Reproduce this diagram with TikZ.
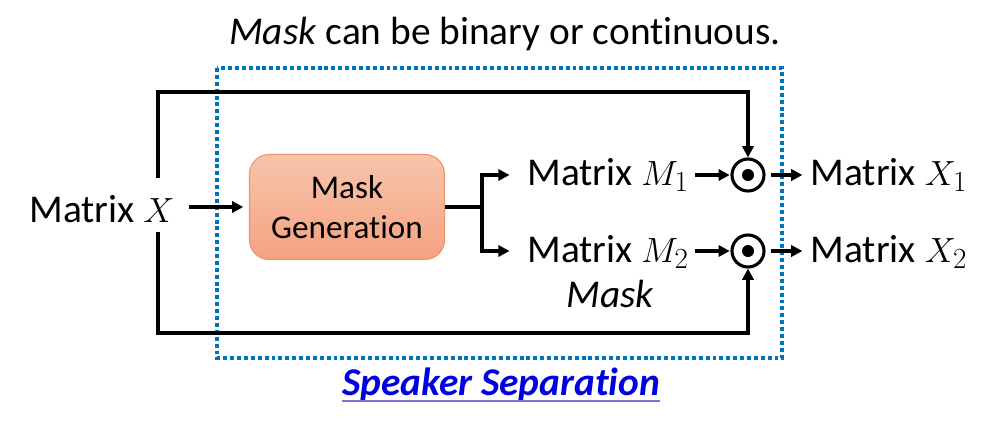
\documentclass[tikz,border=0pt]{standalone}
\usepackage{fontspec}
\setmainfont{Carlito}[Ligatures={NoCommon}]
\usetikzlibrary{arrows.meta,positioning,shapes}

\definecolor{boxtop}{RGB}{248,196,172}
\definecolor{boxbot}{RGB}{244,162,128}
\definecolor{boxline}{RGB}{238,150,112}
\definecolor{sepblue}{RGB}{0,112,192}
\definecolor{spkblue}{RGB}{0,0,225}
\definecolor{ulblue}{RGB}{120,120,210}

\begin{document}
\begin{tikzpicture}[x=0.025cm, y=-0.025cm,
    txt/.style={font=\fontsize{28}{33}\selectfont, anchor=base, inner sep=1pt},
    maskgen/.style={rectangle, rounded corners=14pt, draw=boxline, line width=0.8pt, top color=boxtop, bottom color=boxbot, minimum width=4.875cm, minimum height=2.625cm, align=center, font=\fontsize{23.6}{29}\selectfont},
    odot/.style={circle, draw, line width=2.2pt, minimum size=0.8cm, inner sep=0pt},
    arr/.style={-{Triangle[length=8pt,width=8pt]}, line width=2.2pt},
    loopline/.style={-{Triangle[length=8pt,width=8pt]}, line width=2.8pt}
]
\useasboundingbox (0,0) rectangle (1001,422);

% Title
\node[txt] (title) at (505,44) {\textit{Mask} can be binary or continuous.};

% Speaker separation frame
\draw[sepblue, line width=2.8pt, dash pattern=on 2.8pt off 2.1pt] (217,68) rectangle (782,358);

% Blocks and labels
\node[txt] (matx) at (102,222) {Matrix $X$};
\node[maskgen] (gen) at (347,207) {Mask\\Generation};
\node[txt] (m1) at (608,185) {Matrix $M_1$};
\node[txt] (m2) at (608,262) {Matrix $M_2$};
\node[txt, font=\fontsize{28}{33}\selectfont\itshape] (masklbl) at (610,307) {Mask};
\node[odot] (od1) at (748,175) {};
\node[odot] (od2) at (748,251) {};
\fill (od1.center) circle (0.15cm);
\fill (od2.center) circle (0.15cm);
\node[txt] (x1) at (889,185) {Matrix $X_1$};
\node[txt] (x2) at (889,262) {Matrix $X_2$};
\node[txt, font=\fontsize{28}{33}\selectfont\bfseries\itshape, text=spkblue, inner sep=0pt] (spk) at (501,395) {Speaker Separation};
\draw[ulblue, line width=1.4pt] (spk.south west) -- (spk.south east);

% Connectors
\coordinate (split) at (482,207);
\draw[arr, shorten <=9pt, shorten >=4pt] (matx.east |- gen.west) -- (gen.west);
\draw[line width=2.8pt] (gen.east) -- (split);
\draw[arr, shorten >=11.5pt] (split) |- (m1.west |- od1);
\draw[arr, shorten >=11.5pt] (split) |- (m2.west |- od2);
\draw[arr, shorten <=3pt, shorten >=0.5pt] (m1.east |- od1) -- (od1.west);
\draw[arr, shorten <=3pt, shorten >=0.5pt] (m2.east |- od2) -- (od2.west);
\draw[arr, shorten <=4pt, shorten >=4.7pt] (od1.east) -- (x1.west |- od1);
\draw[arr, shorten <=4pt, shorten >=4.7pt] (od2.east) -- (x2.west |- od2);

% Bypass loops
\coordinate (upstart) at (158,178);
\coordinate (upcorner) at (158,92);
\coordinate (lowstart) at (158,232);
\coordinate (lowcorner) at (158,333);
\draw[loopline] (upstart) -- (upcorner) -| (od1.north);
\draw[loopline] (lowstart) -- (lowcorner) -| (od2.south);

\end{tikzpicture}
\end{document}
